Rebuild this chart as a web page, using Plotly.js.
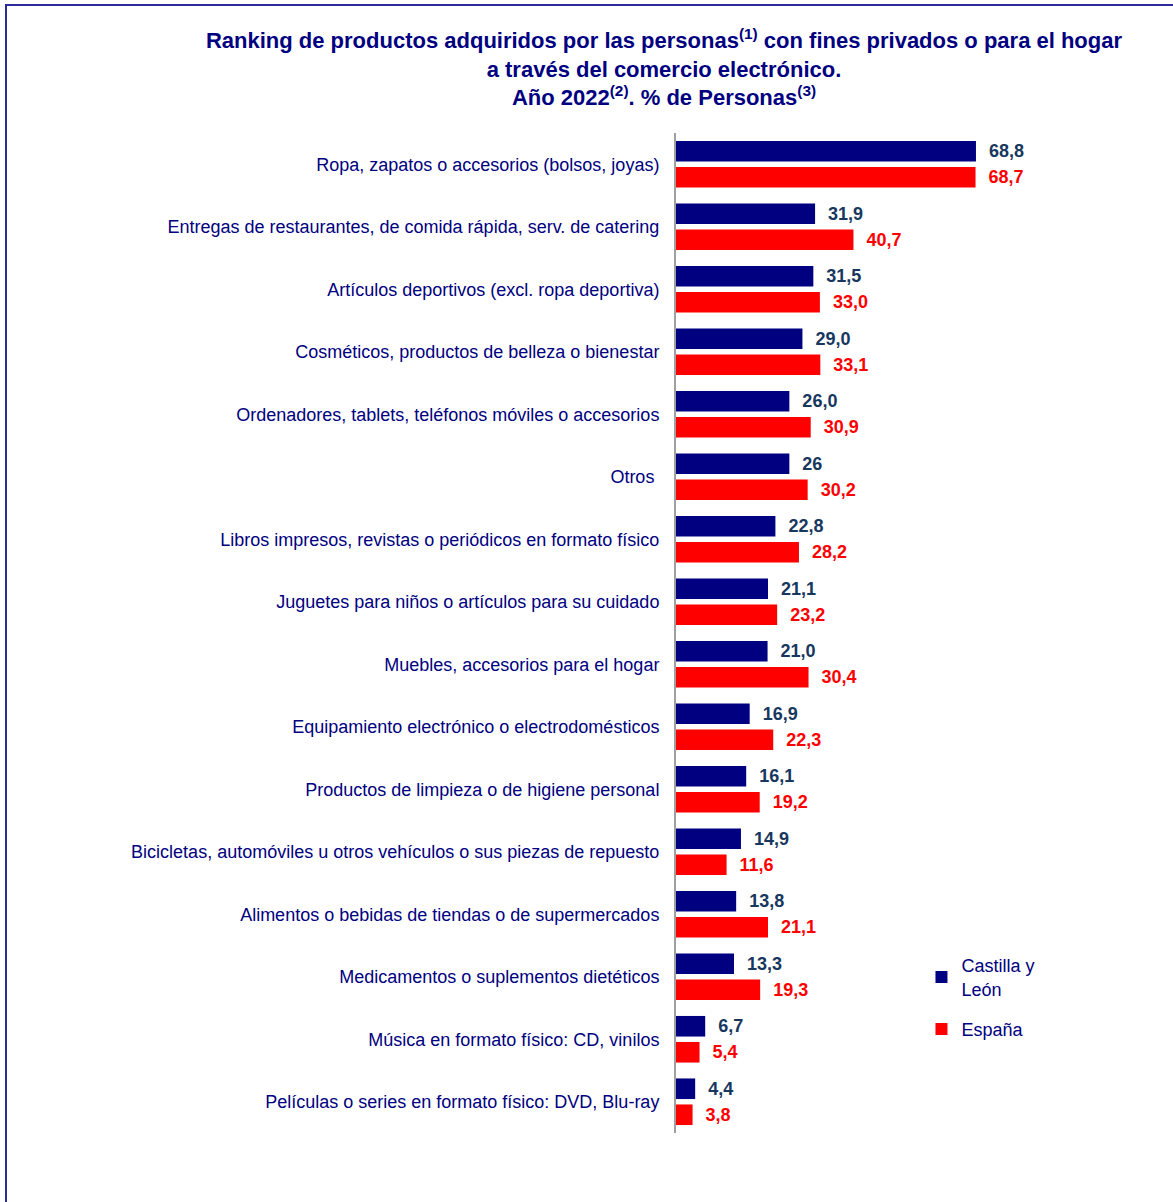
<!DOCTYPE html>
<html>
<head>
<meta charset="utf-8">
<script src="https://cdn.plot.ly/plotly-3.0.1.min.js"></script>
<style>
html,body{margin:0;padding:0;background:#fff;}
#chart{width:1173px;height:1202px;}
</style>
</head>
<body>
<div id="chart"></div>
<script>
const categories = [
  "Ropa, zapatos o accesorios (bolsos, joyas)",
  "Entregas de restaurantes, de comida rápida, serv. de catering",
  "Artículos deportivos (excl. ropa deportiva)",
  "Cosméticos, productos de belleza o bienestar",
  "Ordenadores, tablets, teléfonos móviles o accesorios",
  "Otros\u00a0",
  "Libros impresos, revistas o periódicos en formato físico",
  "Juguetes para niños o artículos para su cuidado",
  "Muebles, accesorios para el hogar",
  "Equipamiento electrónico o electrodomésticos",
  "Productos de limpieza o de higiene personal",
  "Bicicletas, automóviles u otros vehículos o sus piezas de repuesto",
  "Alimentos o bebidas de tiendas o de supermercados",
  "Medicamentos o suplementos dietéticos",
  "Música en formato físico: CD, vinilos",
  "Películas o series en formato físico: DVD, Blu-ray"
];
const castillaLeon = [68.8, 31.9, 31.5, 29.0, 26.0, 26, 22.8, 21.1, 21.0, 16.9, 16.1, 14.9, 13.8, 13.3, 6.7, 4.4];
const espana = [68.7, 40.7, 33.0, 33.1, 30.9, 30.2, 28.2, 23.2, 30.4, 22.3, 19.2, 11.6, 21.1, 19.3, 5.4, 3.8];
const castillaLeonLabels = ["68,8","31,9","31,5","29,0","26,0","26","22,8","21,1","21,0","16,9","16,1","14,9","13,8","13,3","6,7","4,4"];
const espanaLabels = ["68,7","40,7","33,0","33,1","30,9","30,2","28,2","23,2","30,4","22,3","19,2","11,6","21,1","19,3","5,4","3,8"];
const seriesNames = ["Castilla y<br>León", "España"];

const pad = s => "\u00a0\u00a0" + s;
const FONT = "Liberation Sans, Arial, sans-serif";

const traces = [
  {
    type: "bar", orientation: "h", name: seriesNames[0], legendgroup: "cyl",
    y: categories, x: castillaLeon,
    marker: {color: "#000080"},
    text: castillaLeonLabels.map(pad), textposition: "outside", cliponaxis: false,
    textfont: {family: FONT, size: 18, color: "#17375E", weight: "bold"},
    hoverinfo: "x+y"
  },
  {
    type: "bar", orientation: "h", name: seriesNames[1], legendgroup: "esp",
    y: categories, x: espana,
    marker: {color: "#FF0000"},
    text: espanaLabels.map(pad), textposition: "outside", cliponaxis: false,
    textfont: {family: FONT, size: 18, color: "#FF0000", weight: "bold"},
    hoverinfo: "x+y"
  }
];

const layout = {
  width: 1173, height: 1202,
  margin: {l: 676, r: 61, t: 133, b: 69},
  paper_bgcolor: "#fff", plot_bgcolor: "#fff",
  font: {family: FONT, color: "#000080"},
  title: {
    text: "<b>Ranking de productos adquiridos por las personas<sup>(1)</sup> con fines privados o para el hogar<br>a través del comercio electrónico.<br>Año 2022<sup>(2)</sup>. % de Personas<sup>(3)</sup></b>",
    font: {size: 22, color: "#000080", family: FONT},
    x: 664 / 1173, xref: "container", xanchor: "center",
    y: 1 - 48 / 1202, yanchor: "top", yref: "container"
  },
  barmode: "group", bargap: 0.168, bargroupgap: 0.208,
  showlegend: true,
  legend: {
    x: 0.563, xanchor: "left", y: 0.186, yanchor: "top",
    font: {size: 18, color: "#000080", family: FONT},
    traceorder: "grouped", itemwidth: 30, tracegroupgap: 14,
    bgcolor: "rgba(0,0,0,0)"
  },
  xaxis: {
    range: [0, 100], showgrid: false, zeroline: false, showline: false,
    showticklabels: false, ticks: "", fixedrange: true
  },
  yaxis: {
    autorange: "reversed", showgrid: false, zeroline: false,
    showline: true, linecolor: "#A0A0A0", linewidth: 2,
    ticks: "", ticklabelstandoff: 11,
    tickfont: {size: 18, color: "#000080", family: FONT},
    fixedrange: true
  },
  shapes: [
    {type: "rect", xref: "paper", yref: "paper",
     x0: (6 - 676) / 436, x1: 2, y0: -0.3, y1: (1133 - 5) / 1000,
     line: {color: "#2B2B9B", width: 2}, fillcolor: "rgba(0,0,0,0)", layer: "below"}
  ]
};

Plotly.newPlot("chart", traces, layout, {displayModeBar: false, staticPlot: true});
</script>
</body>
</html>
